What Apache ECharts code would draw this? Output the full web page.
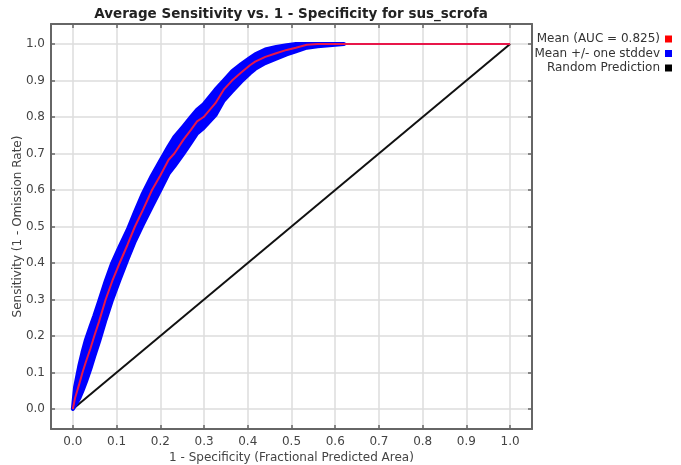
<!DOCTYPE html>
<html>
<head>
<meta charset="utf-8">
<script src="https://cdn.jsdelivr.net/npm/echarts@6/dist/echarts.min.js"></script>
<style>html,body{margin:0;padding:0;background:#fff}#c{width:681px;height:465px}</style>
</head>
<body>
<div id="c"></div>
<script>
// Tick values (both axes)
var tickValues = [0, 0.1, 0.2, 0.3, 0.4, 0.5, 0.6, 0.7, 0.8, 0.9, 1.0];

// Mean ROC curve
var meanX = [0, 0.005, 0.01, 0.015, 0.022, 0.03, 0.04, 0.049, 0.06, 0.075, 0.09, 0.107, 0.125, 0.142, 0.16, 0.181, 0.2, 0.219, 0.232, 0.253, 0.27, 0.284, 0.299, 0.326, 0.345, 0.364, 0.385, 0.405, 0.417, 0.44, 0.465, 0.489, 0.51, 0.535, 0.56, 1.0];
var meanY = [0, 0.03, 0.05, 0.07, 0.10, 0.13, 0.165, 0.20, 0.24, 0.30, 0.35, 0.40, 0.45, 0.50, 0.545, 0.60, 0.64, 0.683, 0.70, 0.738, 0.765, 0.788, 0.80, 0.838, 0.875, 0.90, 0.922, 0.942, 0.952, 0.965, 0.975, 0.984, 0.99, 0.998, 1.0, 1.0];

// Mean +/- one stddev band
var bandX = [0, 0.005, 0.01, 0.015, 0.022, 0.03, 0.04, 0.049, 0.06, 0.075, 0.09, 0.107, 0.125, 0.142, 0.16, 0.181, 0.2, 0.219, 0.232, 0.253, 0.27, 0.284, 0.299, 0.326, 0.345, 0.364, 0.385, 0.405, 0.417, 0.44, 0.465, 0.489, 0.51, 0.535, 0.56, 0.6, 0.62];
var bandUpper = [0, 0.06, 0.09, 0.12, 0.155, 0.19, 0.225, 0.255, 0.295, 0.35, 0.40, 0.445, 0.49, 0.54, 0.59, 0.64, 0.68, 0.72, 0.745, 0.775, 0.80, 0.82, 0.835, 0.875, 0.90, 0.925, 0.945, 0.962, 0.972, 0.985, 0.992, 0.997, 1.0, 1.0, 1.0, 1.0, 1.0];
var bandLower = [0, 0.01, 0.02, 0.03, 0.05, 0.075, 0.11, 0.145, 0.185, 0.245, 0.30, 0.355, 0.41, 0.46, 0.505, 0.555, 0.60, 0.645, 0.665, 0.70, 0.73, 0.755, 0.77, 0.805, 0.845, 0.87, 0.897, 0.92, 0.932, 0.948, 0.96, 0.972, 0.98, 0.99, 0.994, 0.998, 1.0];

// Random prediction diagonal
var randX = [0, 1];
var randY = [0, 1];

var names = ['Mean (AUC = 0.825)', 'Mean +/- one stddev', 'Random Prediction'];
var titleText = 'Average Sensitivity vs. 1 - Specificity for sus_scrofa';
var xName = '1 - Specificity (Fractional Predicted Area)';
var yName = 'Sensitivity (1 - Omission Rate)';

function zip(a, b) { return a.map(function (v, i) { return [v, b[i]]; }); }

var FONT = 'DejaVu Sans';
var frameLine = { show: true, onZero: false, lineStyle: { color: '#666', width: 2 } };
var gridLine = { show: true, lineStyle: { color: '#dcdcdc', width: 1.5 } };

function mkAxis(pos, showLabel, isX) {
  return {
    type: 'value',
    position: pos,
    min: isX ? -0.05 : -0.055,
    max: isX ? 1.05 : 1.055,
    axisLine: frameLine,
    axisTick: { show: true, inside: true, length: 4, customValues: tickValues, lineStyle: { color: '#666', width: 1.5 } },
    axisLabel: {
      show: showLabel, customValues: tickValues, margin: isX ? 7 : 6,
      color: '#444', fontSize: 12, fontFamily: FONT,
      formatter: function (v) { return v.toFixed(1); }
    },
    splitLine: showLabel ? gridLine : { show: false },
    name: showLabel ? (isX ? xName : yName) : '',
    nameLocation: 'middle',
    nameGap: isX ? 23 : 27,
    nameMoveOverlap: false,
    nameTextStyle: { color: '#444', fontSize: 12, fontFamily: FONT }
  };
}

var chart = echarts.init(document.getElementById('c'), null, { renderer: 'canvas' });
chart.setOption({
  animation: false,
  backgroundColor: '#fff',
  title: {
    text: titleText, left: 286, textAlign: 'center', top: 2,
    textStyle: { fontSize: 13.5, fontWeight: 'bold', color: '#222', fontFamily: FONT }
  },
  legend: {
    orient: 'vertical', right: 4, top: 28, align: 'right',
    itemWidth: 7, itemHeight: 7, itemGap: 2.5, icon: 'rect',
    textStyle: { fontSize: 12, color: '#333', fontFamily: FONT, padding: [0, 0, 0, 0] },
    data: names
  },
  grid: { left: 51, top: 24, width: 481, height: 405, show: false, containLabel: false, outerBoundsMode: 'none' },
  xAxis: [mkAxis('bottom', true, true), mkAxis('top', false, true)],
  yAxis: [mkAxis('left', true, false), mkAxis('right', false, false)],
  series: [
    {
      name: names[2], type: 'line', data: zip(randX, randY), showSymbol: false,
      lineStyle: { color: '#111', width: 2 }, itemStyle: { color: '#000' }, z: 2
    },
    {
      name: names[1], type: 'custom', itemStyle: { color: '#0000ff' }, z: 3,
      data: [[0, 0]],
      renderItem: function (params, api) {
        var pts = [];
        for (var i = 0; i < bandX.length; i++) pts.push(api.coord([bandX[i], bandUpper[i]]));
        for (var j = bandX.length - 1; j >= 0; j--) pts.push(api.coord([bandX[j], bandLower[j]]));
        return {
          type: 'polygon', shape: { points: pts },
          style: { fill: '#0000ff', stroke: '#0000ff', lineWidth: 4, lineJoin: 'round' }
        };
      }
    },
    {
      name: names[0], type: 'line', data: zip(meanX, meanY), showSymbol: false,
      lineStyle: { color: '#e8174a', width: 2 }, itemStyle: { color: '#ff0000' }, z: 4
    }
  ]
});
</script>
</body>
</html>
